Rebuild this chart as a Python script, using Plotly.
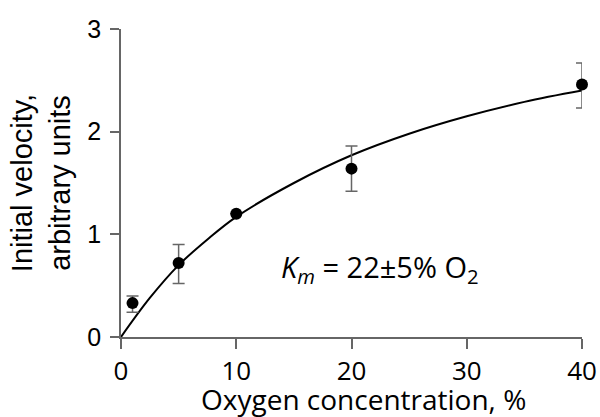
import plotly.graph_objects as go

# Measured data points
oxygen = [1, 5, 10, 20, 40]
velocity = [0.33, 0.72, 1.20, 1.64, 2.46]
err_plus = [0.07, 0.18, 0.0, 0.22, 0.21]
err_minus = [0.09, 0.20, 0.0, 0.22, 0.23]

# Fitted curve
curve_x = [0, 2.5, 5, 7.5, 10, 15, 20, 25, 30, 35, 40]
curve_y = [0, 0.38, 0.70, 0.95, 1.17, 1.50, 1.77, 1.98, 2.15, 2.29, 2.40]

x_ticks = [0, 10, 20, 30, 40]
y_ticks = [0, 1, 2, 3]

axis_color = "#666666"

fig = go.Figure()
fig.add_trace(go.Scatter(
    x=curve_x, y=curve_y, mode="lines",
    line=dict(color="black", width=2, shape="spline"),
    hoverinfo="skip", showlegend=False, cliponaxis=False,
))
fig.add_trace(go.Scatter(
    x=oxygen, y=velocity, mode="markers",
    marker=dict(color="black", size=12),
    error_y=dict(type="data", array=err_plus, arrayminus=err_minus,
                 color=axis_color, thickness=1.5, width=6),
    showlegend=False, cliponaxis=False,
))

fig.add_annotation(
    x=13.7, y=0.67, xref="x", yref="y", xanchor="left", yanchor="middle",
    text="<i>K</i><sub><i>m</i></sub> = 22±5% O<sub>2</sub>",
    showarrow=False, font=dict(family="Open Sans", size=29, color="black"),
)
fig.add_annotation(
    x=0.525, y=0, xref="paper", yref="paper", xanchor="center", yanchor="middle",
    yshift=-62, text="Oxygen concentration, %", showarrow=False,
    font=dict(family="Open Sans", size=28, color="black"),
)

fig.update_layout(
    width=600, height=417,
    margin=dict(l=121, r=18, t=29, b=80),
    paper_bgcolor="white", plot_bgcolor="white",
    xaxis=dict(
        range=[0, 40], tickvals=x_ticks, ticks="outside", ticklen=10,
        tickcolor=axis_color, tickwidth=1.5, automargin=False,
        showline=True, linecolor=axis_color, linewidth=1.5,
        showgrid=False, zeroline=False,
        tickfont=dict(family="Open Sans", size=26, color="black"),
    ),
    yaxis=dict(
        range=[0, 3], tickvals=y_ticks, ticks="outside", ticklen=9,
        tickcolor=axis_color, tickwidth=1.5, automargin=False,
        showline=True, linecolor=axis_color, linewidth=1.5,
        showgrid=False, zeroline=False,
        tickfont=dict(family="Liberation Sans", size=25, color="black"),
        ticklabelstandoff=4,
        title=dict(text="Initial velocity,<br>arbitrary units", standoff=8,
                   font=dict(family="Liberation Sans", size=29, color="black")),
    ),
)

fig.write_html(
    "out.html",
    config={"displayModeBar": False},
    post_script="document.body.style.margin='0';document.body.style.overflow='hidden';",
)
